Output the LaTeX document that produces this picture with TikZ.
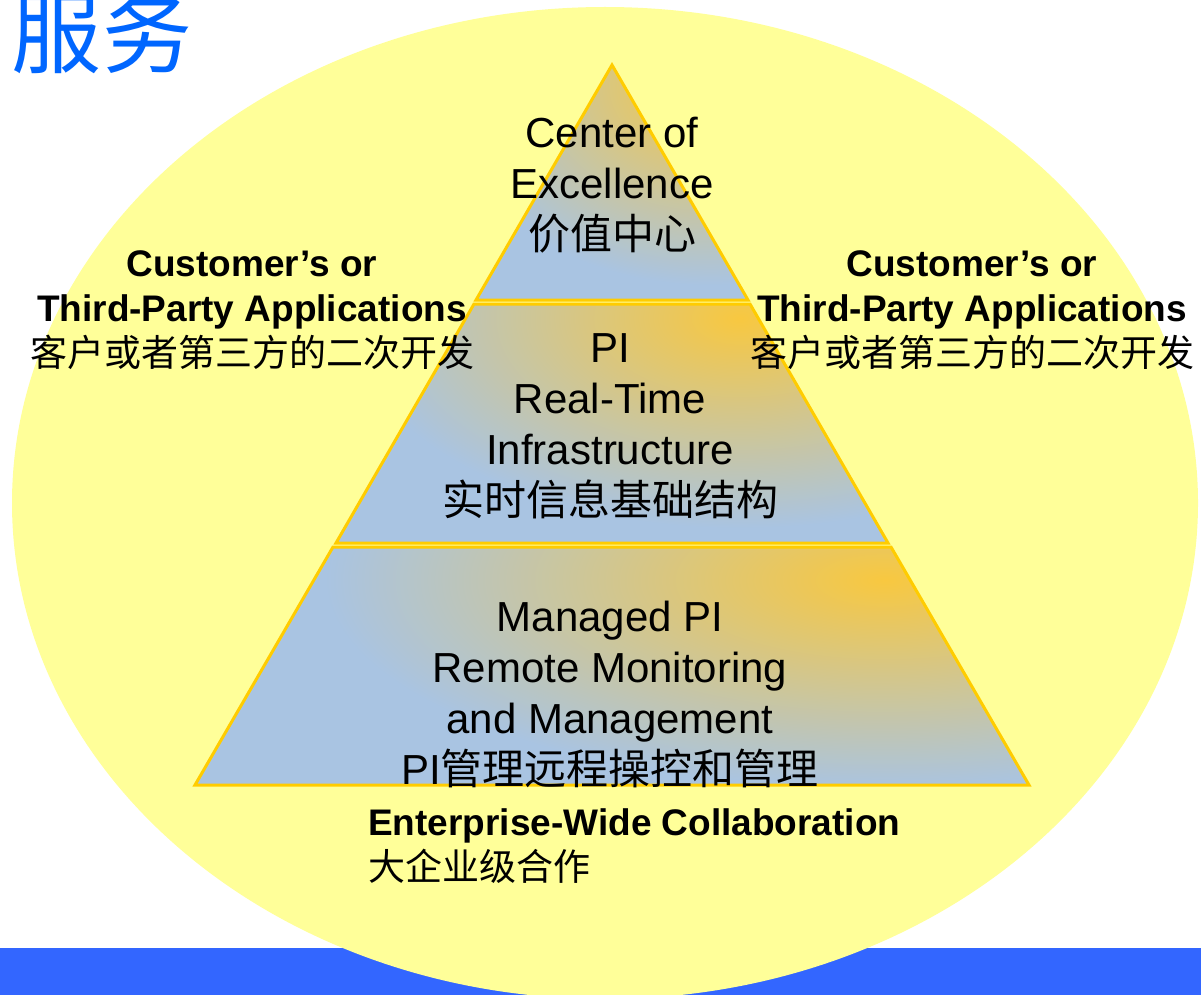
\documentclass[tikz,border=0pt]{standalone}
\usepackage{fontspec}
\setmainfont{Liberation Sans}
\newfontfamily\cjk{Noto Sans CJK SC}
\definecolor{ovalyellow}{HTML}{FFFF99}
\definecolor{barblue}{HTML}{3366FF}
\definecolor{titleblue}{HTML}{0066FF}
\definecolor{layerblue}{HTML}{A9C4E2}
\definecolor{layerorange}{HTML}{F8C840}
\definecolor{layeredge}{HTML}{FFCC00}

\begin{document}
\begin{tikzpicture}[x=1pt, y=-1pt, layer/.style={draw=layeredge, line width=3pt, line join=miter}, glow/.style={inner color=layerorange, outer color=layerblue}, tiertext/.style={align=center, inner sep=0pt, font=\fontsize{42}{51}\selectfont}, sidetext/.style={align=center, inner sep=0pt, font=\fontsize{37}{45}\selectfont}]
  {
  \useasboundingbox (0,0) rectangle (1201,995);
  \fill[white] (0,0) rectangle (1201,995);
  \fill[barblue] (0,948) rectangle (1201,995);
  \fill[ovalyellow] (605,503) ellipse (593 and 496);

  % pyramid tiers
  \fill[layerblue] (612,65) -- (748,300) -- (476,300) -- cycle;
  \begin{scope}
    \clip (612,65) -- (748,300) -- (476,300) -- cycle;
    \shade[glow] (710,85) ellipse (270 and 200);
  \end{scope}
  \draw[layer] (612,65) -- (748,300) -- (476,300) -- cycle;

  \fill[layerblue] (474,304) -- (750,304) -- (888,543) -- (336,543) -- cycle;
  \begin{scope}
    \clip (474,304) -- (750,304) -- (888,543) -- (336,543) -- cycle;
    \shade[glow] (740,318) ellipse (390 and 210);
  \end{scope}
  \draw[layer] (474,304) -- (750,304) -- (888,543) -- (336,543) -- cycle;

  \fill[layerblue] (333,547) -- (891,547) -- (1029,785) -- (195,785) -- cycle;
  \begin{scope}
    \clip (333,547) -- (891,547) -- (1029,785) -- (195,785) -- cycle;
    \shade[glow] (885,580) ellipse (560 and 210);
  \end{scope}
  \draw[layer] (333,547) -- (891,547) -- (1029,785) -- (195,785) -- cycle;

  \node[tiertext] (coe) at (612,185) {Center of\\Excellence\\{\cjk 价值中心}};
  \node[tiertext] (rti) at (610,426) {PI\\Real-Time\\Infrastructure\\{\cjk 实时信息基础结构}};
  \node[tiertext] (rmm) at (610,694) {Managed PI\\Remote Monitoring\\and Management\\PI{\cjk 管理远程操控和管理}};

  \node[sidetext] (appl) at (252,310) {\textbf{Customer’s or}\\\textbf{Third-Party Applications}\\{\cjk 客户或者第三方的二次开发}};
  \node[sidetext] (appr) at (972,310) {\textbf{Customer’s or}\\\textbf{Third-Party Applications}\\{\cjk 客户或者第三方的二次开发}};
  \node[sidetext, align=left, anchor=north west] (ewc) at (368,808) {\textbf{Enterprise-Wide Collaboration}\\{\cjk 大企业级合作}};

  \node[inner sep=0pt, text=titleblue, font=\cjk\fontsize{90}{90}\selectfont] (title) at (102,32) {服务};
  }
\end{tikzpicture}
\end{document}
